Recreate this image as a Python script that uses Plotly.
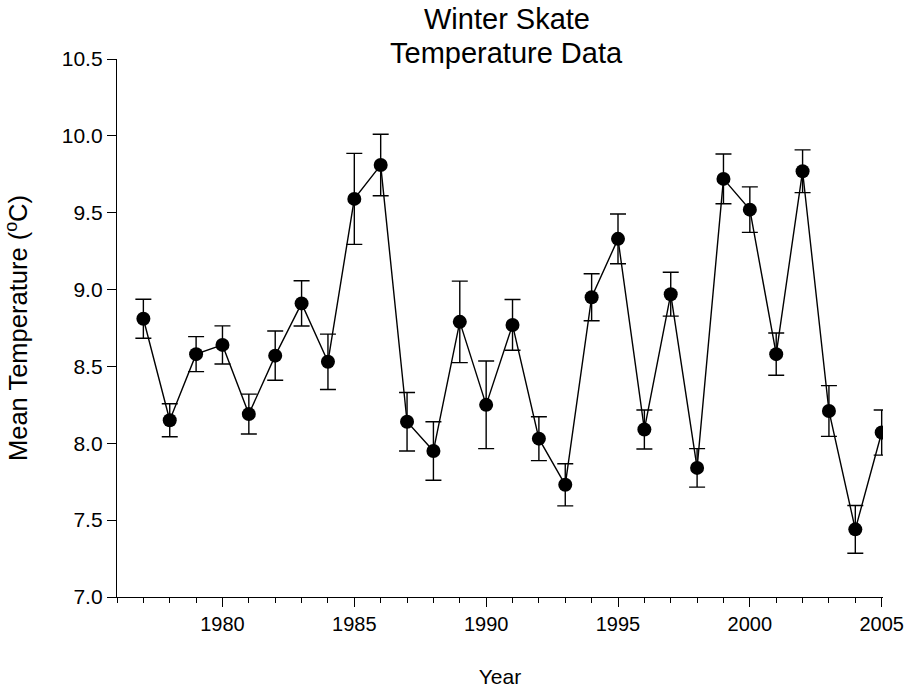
import plotly.graph_objects as go

years = list(range(1977, 2006))
mean_temp = [8.81, 8.15, 8.58, 8.64, 8.19, 8.57, 8.91, 8.53, 9.59, 9.81,
             8.14, 7.95, 8.79, 8.25, 8.77, 8.03, 7.73, 8.95, 9.33, 8.09,
             8.97, 7.84, 9.72, 9.52, 8.58, 9.77, 8.21, 7.44, 8.07]
std_err = [0.127, 0.107, 0.114, 0.124, 0.13, 0.16, 0.147, 0.18, 0.296, 0.2,
           0.19, 0.19, 0.265, 0.285, 0.165, 0.143, 0.137, 0.153, 0.162, 0.127,
           0.143, 0.125, 0.162, 0.148, 0.137, 0.139, 0.165, 0.155, 0.147]
y_ticks = [7.0, 7.5, 8.0, 8.5, 9.0, 9.5, 10.0, 10.5]
x_ticks = [1980, 1985, 1990, 1995, 2000, 2005]
title_lines = ["Winter Skate", "Temperature Data"]

FONT = "Liberation Sans, Arial, sans-serif"

fig = go.Figure()
fig.add_trace(go.Scatter(
    x=years, y=mean_temp, mode="lines+markers",
    line=dict(color="black", width=1.4),
    marker=dict(color="black", size=14),
    error_y=dict(type="data", array=std_err, visible=True,
                 color="black", thickness=1.4, width=8),
    showlegend=False,
))

for txt, yp in zip(title_lines, [1.0740, 1.0118]):
    fig.add_annotation(text=txt, xref="paper", yref="paper", x=0.509, y=yp,
                       xanchor="center", yanchor="middle", showarrow=False,
                       font=dict(size=29, family=FONT, color="black"))

fig.update_layout(
    width=908, height=691,
    margin=dict(l=117, r=25, t=59, b=94),
    paper_bgcolor="white", plot_bgcolor="white",
    font=dict(family=FONT, color="black", size=20),
    xaxis=dict(range=[1976, 2005.05], tickvals=x_ticks, showline=True,
               automargin=False,
               linecolor="black", linewidth=1.3, ticks="outside", ticklen=9,
               tickwidth=1.3, tickcolor="black", showgrid=False, zeroline=False,
               tickfont=dict(size=20),
               minor=dict(dtick=1, tick0=1976, ticks="outside", ticklen=5,
                          tickwidth=1.3, tickcolor="black", showgrid=False),
               title=dict(text="Year", font=dict(size=21), standoff=35)),
    yaxis=dict(range=[7.0, 10.5], tickvals=y_ticks, tickformat=".1f",
               automargin=False,
               showline=True, linecolor="black", linewidth=1.3,
               ticks="outside", ticklen=9, tickwidth=1.3, tickcolor="black",
               showgrid=False, zeroline=False, tickfont=dict(size=21),
               title=dict(text="Mean Temperature (<sup>o</sup>C)",
                          font=dict(size=25.5), standoff=26)),
)

fig.write_html("out.html", config={"displayModeBar": False},
               post_script="document.body.style.margin='0';")
